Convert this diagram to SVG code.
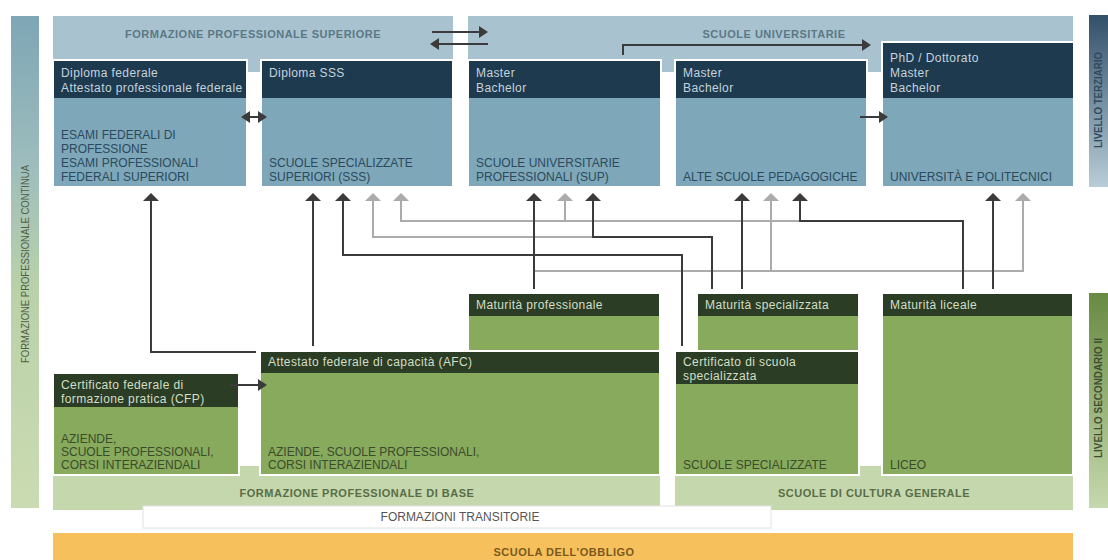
<svg xmlns="http://www.w3.org/2000/svg" width="1108" height="560" viewBox="0 0 1108 560">
<defs>
<linearGradient id="gl" x1="0" y1="0" x2="0" y2="1">
<stop offset="0" stop-color="#7ea6b5"/>
<stop offset="0.3" stop-color="#9dbdbd"/>
<stop offset="0.55" stop-color="#b9d1a9"/>
<stop offset="1" stop-color="#cbdbb1"/>
</linearGradient>
<linearGradient id="gt" x1="0" y1="0" x2="0" y2="1">
<stop offset="0" stop-color="#33506a"/>
<stop offset="1" stop-color="#b8cdd7"/>
</linearGradient>
<linearGradient id="gs" x1="0" y1="0" x2="0" y2="1">
<stop offset="0" stop-color="#688a42"/>
<stop offset="1" stop-color="#c6d8ad"/>
</linearGradient>
<marker id="ad" viewBox="0 0 8 16" refX="4" refY="8" markerWidth="8" markerHeight="16" orient="auto" markerUnits="userSpaceOnUse"><path d="M0,0 L8,8 L0,16 z" fill="#3b3b3b"/></marker>
<marker id="ag" viewBox="0 0 8 16" refX="4" refY="8" markerWidth="8" markerHeight="16" orient="auto" markerUnits="userSpaceOnUse"><path d="M0,0 L8,8 L0,16 z" fill="#ababab"/></marker>
<marker id="at" viewBox="0 0 9 12" refX="3" refY="6" markerWidth="9" markerHeight="12" orient="auto-start-reverse" markerUnits="userSpaceOnUse"><path d="M0,0 L9,6 L0,12 z" fill="#3b3b3b"/></marker>
</defs>
<style>
text{font-family:"Liberation Sans",Arial,sans-serif}
.ttl{font-weight:bold;font-size:11px;letter-spacing:0.5px;text-anchor:middle}
.tb{fill:#5b7886}
.tg{fill:#5a6d47}
.to{fill:#7a5920}
.hd{font-size:12px;letter-spacing:0.4px}
.bd{font-size:12px}
.nh{fill:#1e3a4f}
.nb{fill:#7ea7ba}
.nht{fill:#c4d3dc}
.nbt{fill:#2c4a5c}
.gh{fill:#2b3e25}
.gb{fill:#87aa5c}
.ght{fill:#d3ddc6}
.gbt{fill:#3b4c2c}
.ol{fill:none;stroke:#fff;stroke-width:2}
.cd{fill:none;stroke:#3b3b3b;stroke-width:2;marker-end:url(#ad)}
.cg{fill:none;stroke:#ababab;stroke-width:2;marker-end:url(#ag)}
.ct{fill:none;stroke:#3b3b3b;stroke-width:2;marker-end:url(#at)}
</style>
<rect width="1108" height="560" fill="#fff"/>

<g id="side-left">
<rect x="11" y="16" width="28" height="492" fill="url(#gl)"/>
<text transform="translate(29,264) rotate(-90)" text-anchor="middle" font-size="11.5" fill="#4f5f45" textLength="198" lengthAdjust="spacingAndGlyphs">FORMAZIONE PROFESSIONALE CONTINUA</text>
</g>
<g id="side-terziario">
<rect x="1089" y="15" width="19" height="172" fill="url(#gt)"/>
<text transform="translate(1102,100) rotate(-90)" text-anchor="middle" font-size="10" font-weight="bold" fill="#2e4a60" textLength="96" lengthAdjust="spacingAndGlyphs">LIVELLO TERZIARIO</text>
</g>
<g id="side-secondario">
<rect x="1089" y="293" width="19" height="215" fill="url(#gs)"/>
<text transform="translate(1102,398) rotate(-90)" text-anchor="middle" font-size="10" font-weight="bold" fill="#3e4e33" textLength="120" lengthAdjust="spacingAndGlyphs">LIVELLO SECONDARIO II</text>
</g>

<g id="band-fps">
<rect x="53" y="16" width="400" height="56" fill="#a8c3cf"/>
<text class="ttl tb" x="253" y="38">FORMAZIONE PROFESSIONALE SUPERIORE</text>
</g>
<g id="band-su">
<rect x="468" y="16" width="605" height="56" fill="#a8c3cf"/>
<text class="ttl tb" x="774" y="38">SCUOLE UNIVERSITARIE</text>
</g>

<g id="box-esami">
<rect class="nh" x="53" y="60" width="194" height="38"/>
<rect class="nb" x="53" y="98" width="194" height="89"/>
<rect class="ol" x="53" y="60" width="194" height="127"/>
<text class="hd nht" x="61" y="77">Diploma federale</text>
<text class="hd nht" x="61" y="92">Attestato professionale federale</text>
<text class="bd nbt" x="61" y="139">ESAMI FEDERALI DI</text>
<text class="bd nbt" x="61" y="153">PROFESSIONE</text>
<text class="bd nbt" x="61" y="167">ESAMI PROFESSIONALI</text>
<text class="bd nbt" x="61" y="181">FEDERALI SUPERIORI</text>
</g>
<g id="box-sss">
<rect class="nh" x="261" y="60" width="192" height="38"/>
<rect class="nb" x="261" y="98" width="192" height="89"/>
<rect class="ol" x="261" y="60" width="192" height="127"/>
<text class="hd nht" x="269" y="77">Diploma SSS</text>
<text class="bd nbt" x="269" y="167">SCUOLE SPECIALIZZATE</text>
<text class="bd nbt" x="269" y="181">SUPERIORI (SSS)</text>
</g>
<g id="box-sup">
<rect class="nh" x="468" y="60" width="193" height="38"/>
<rect class="nb" x="468" y="98" width="193" height="89"/>
<rect class="ol" x="468" y="60" width="193" height="127"/>
<text class="hd nht" x="476" y="77">Master</text>
<text class="hd nht" x="476" y="92">Bachelor</text>
<text class="bd nbt" x="476" y="167">SCUOLE UNIVERSITARIE</text>
<text class="bd nbt" x="476" y="181">PROFESSIONALI (SUP)</text>
</g>
<g id="box-asp">
<rect class="nh" x="675" y="60" width="192" height="38"/>
<rect class="nb" x="675" y="98" width="192" height="89"/>
<rect class="ol" x="675" y="60" width="192" height="127"/>
<text class="hd nht" x="683" y="77">Master</text>
<text class="hd nht" x="683" y="92">Bachelor</text>
<text class="bd nbt" x="683" y="181">ALTE SCUOLE PEDAGOGICHE</text>
</g>
<g id="box-uni">
<rect class="nh" x="882" y="42" width="192" height="56"/>
<rect class="nb" x="882" y="98" width="192" height="89"/>
<rect class="ol" x="882" y="42" width="192" height="145"/>
<text class="hd nht" x="890" y="62">PhD / Dottorato</text>
<text class="hd nht" x="890" y="77">Master</text>
<text class="hd nht" x="890" y="92">Bachelor</text>
<text class="bd nbt" x="890" y="181">UNIVERSITÀ E POLITECNICI</text>
</g>

<g id="band-fpb">
<rect x="53" y="466" width="607" height="44" fill="#c5d8ad"/>
<text class="ttl tg" x="357" y="497">FORMAZIONE PROFESSIONALE DI BASE</text>
</g>
<g id="band-scg">
<rect x="675" y="466" width="398" height="44" fill="#c5d8ad"/>
<text class="ttl tg" x="874" y="497">SCUOLE DI CULTURA GENERALE</text>
</g>
<g id="box-transitorie">
<rect x="143" y="506" width="628" height="22" fill="#fff" stroke="#e2e2e2" stroke-width="1"/>
<text x="460" y="521" text-anchor="middle" font-size="12" fill="#555">FORMAZIONI TRANSITORIE</text>
</g>
<g id="band-obbligo">
<rect x="53" y="533" width="1020" height="27" fill="#f6c15c"/>
<text class="ttl to" x="564" y="556">SCUOLA DELL’OBBLIGO</text>
</g>

<g id="box-cfp">
<rect class="gh" x="53" y="373" width="186" height="34"/>
<rect class="gb" x="53" y="407" width="186" height="68"/>
<rect class="ol" x="53" y="373" width="186" height="102"/>
<text class="hd ght" x="61" y="389">Certificato federale di</text>
<text class="hd ght" x="61" y="403">formazione pratica (CFP)</text>
<text class="bd gbt" x="61" y="443">AZIENDE,</text>
<text class="bd gbt" x="61" y="456">SCUOLE PROFESSIONALI,</text>
<text class="bd gbt" x="61" y="469">CORSI INTERAZIENDALI</text>
</g>
<g id="box-matprof">
<rect class="gh" x="468" y="293" width="192" height="23"/>
<rect class="gb" x="468" y="316" width="192" height="35"/>
<rect class="ol" x="468" y="293" width="192" height="58"/>
<text class="hd ght" x="476" y="309">Maturità professionale</text>
</g>
<g id="box-afc">
<rect class="gh" x="260" y="351" width="400" height="22"/>
<rect class="gb" x="260" y="373" width="400" height="102"/>
<rect class="ol" x="260" y="351" width="400" height="124"/>
<text class="hd ght" x="268" y="366">Attestato federale di capacità (AFC)</text>
<text class="bd gbt" x="268" y="456">AZIENDE, SCUOLE PROFESSIONALI,</text>
<text class="bd gbt" x="268" y="469">CORSI INTERAZIENDALI</text>
</g>
<g id="box-matspec">
<rect class="gh" x="697" y="293" width="162" height="23"/>
<rect class="gb" x="697" y="316" width="162" height="35"/>
<rect class="ol" x="697" y="293" width="162" height="58"/>
<text class="hd ght" x="705" y="309">Maturità specializzata</text>
</g>
<g id="box-certspec">
<rect class="gh" x="675" y="351" width="184" height="33"/>
<rect class="gb" x="675" y="384" width="184" height="91"/>
<rect class="ol" x="675" y="351" width="184" height="124"/>
<text class="hd ght" x="683" y="366">Certificato di scuola</text>
<text class="hd ght" x="683" y="380">specializzata</text>
<text class="bd gbt" x="683" y="469">SCUOLE SPECIALIZZATE</text>
</g>
<g id="box-liceo">
<rect class="gh" x="882" y="293" width="191" height="23"/>
<rect class="gb" x="882" y="316" width="191" height="159"/>
<rect class="ol" x="882" y="293" width="191" height="182"/>
<text class="hd ght" x="890" y="309">Maturità liceale</text>
<text class="bd gbt" x="890" y="469">LICEO</text>
</g>

<g id="connectors">
<path class="ct" d="M432,32 H482"/>
<path class="ct" d="M488,44 H436"/>
<path class="ct" d="M623,55 V45 H865"/>
<path class="ct" d="M860,117 H882"/>
<path class="ct" d="M247,117 H261" style="marker-start:url(#at)"/>
<path class="ct" d="M230,385 H261"/>
<path class="cg" d="M593,237 H373 V197"/>
<path class="cg" d="M800,221 H401 V197"/>
<path class="cg" d="M565,221 V197"/>
<path class="cg" d="M534,271 H1023 V197"/>
<path class="cg" d="M771,271 V197"/>
<path class="cd" d="M256,352 H151 V197"/>
<path class="cd" d="M313,346 V197"/>
<path class="cd" d="M682,346 V255 H343 V197"/>
<path class="cd" d="M534,289 V197"/>
<path class="cd" d="M712,289 V237 H593 V197"/>
<path class="cd" d="M742,289 V197"/>
<path class="cd" d="M963,289 V221 H800 V197"/>
<path class="cd" d="M993,289 V197"/>
</g>
</svg>
